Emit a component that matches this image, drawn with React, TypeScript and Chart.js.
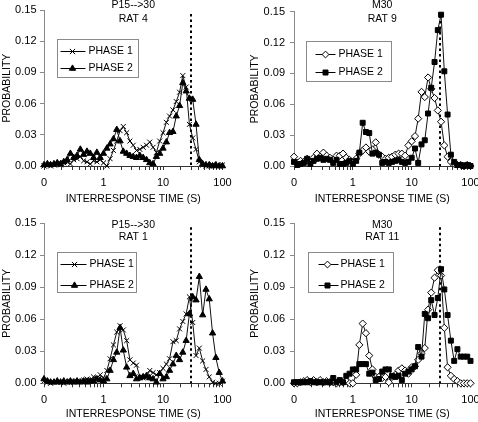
import React, { useEffect, useRef } from 'react';
import { Chart, registerables } from 'chart.js';

Chart.register(...registerables);

const FONT = '"Liberation Sans", Arial, Helvetica, sans-serif';

// Log-spaced interresponse-time bins (seconds)
const BINS = [
  0.1, 0.114, 0.129, 0.147, 0.167, 0.19, 0.215, 0.245, 0.278, 0.316, 0.359, 0.408, 0.464, 0.528, 0.599, 0.681, 0.774, 0.88,
  1, 1.14, 1.29, 1.47, 1.67, 1.9, 2.15, 2.45, 2.78, 3.16, 3.59, 4.08, 4.64, 5.28, 5.99, 6.81, 7.74, 8.8,
  10, 11.4, 12.9, 14.7, 16.7, 19, 21.5, 24.5, 27.8, 31.6, 35.9, 40.8, 46.4, 52.8, 59.9, 68.1, 77.4, 88,
  100,
];

const X_TICK_VALUES = [
  0.1, 0.2, 0.3, 0.4, 0.5, 0.6, 0.7, 0.8, 0.9,
  1, 2, 3, 4, 5, 6, 7, 8, 9,
  10, 20, 30, 40, 50, 60, 70, 80, 90,
  100,
];
const X_LABEL_VALUES = [0.1, 1, 10, 100];
const X_LABEL_TEXT = ['0', '1', '10', '100'];
const Y_TICK_VALUES = [0, 0.03, 0.06, 0.09, 0.12, 0.15];
const CRITERION_S = 30;
const SERIES_NAMES = ['PHASE 1', 'PHASE 2'];
const X_TITLE = 'INTERRESPONSE TIME (S)';
const Y_TITLE = 'PROBABILITY';

const P15_RAT4_PH1 = [
  0.000, 0.001, 0.000, 0.001, 0.002, 0.001, 0.003, 0.004, 0.002, 0.006,
  0.007, 0.009, 0.005, 0.004, 0.002, 0.005, 0.004, 0.006, 0.003, 0.000,
  0.007, 0.015, 0.024, 0.034, 0.038, 0.032, 0.024, 0.020, 0.015, 0.016,
  0.018, 0.020, 0.023, 0.018, 0.013, 0.024, 0.032, 0.042, 0.048, 0.054,
  0.062, 0.071, 0.087, 0.076, 0.040, 0.027, 0.016, 0.004, 0.001, 0.000,
  0.000, 0.001, 0.000, 0.000, 0.001,
];
const P15_RAT4_PH2 = [
  0.001, 0.002, 0.001, 0.002, 0.003, 0.002, 0.004, 0.006, 0.012, 0.008,
  0.010, 0.016, 0.011, 0.014, 0.012, 0.008, 0.013, 0.008, 0.012, 0.017,
  0.021, 0.026, 0.035, 0.024, 0.014, 0.012, 0.010, 0.009, 0.008, 0.010,
  0.008, 0.006, 0.003, 0.002, 0.009, 0.012, 0.017, 0.023, 0.032, 0.033,
  0.048, 0.058, 0.080, 0.072, 0.065, 0.064, 0.040, 0.006, 0.002, 0.001,
  0.001, 0.000, 0.001, 0.000, 0.000,
];
const M30_RAT9_PH1 = [
  0.009, 0.003, 0.005, 0.004, 0.007, 0.003, 0.008, 0.012, 0.009, 0.013,
  0.010, 0.008, 0.006, 0.010, 0.010, 0.012, 0.008, 0.006, 0.003, 0.007,
  0.012, 0.015, 0.018, 0.014, 0.016, 0.023, 0.011, 0.009, 0.007, 0.008,
  0.009, 0.011, 0.012, 0.012, 0.010, 0.020, 0.024, 0.029, 0.046, 0.072,
  0.067, 0.086, 0.075, 0.066, 0.054, 0.043, 0.020, 0.009, 0.004, 0.002,
  0.001, 0.001, 0.000, 0.001, 0.000,
];
const M30_RAT9_PH2 = [
  0.004, 0.001, 0.002, 0.003, 0.007, 0.002, 0.005, 0.007, 0.008, 0.006,
  0.007, 0.006, 0.003, 0.006, 0.002, 0.002, 0.003, 0.005, 0.002, 0.005,
  0.013, 0.042, 0.033, 0.032, 0.012, 0.013, 0.011, 0.003, 0.004, 0.003,
  0.004, 0.005, 0.006, 0.004, 0.003, 0.004, 0.008, 0.017, 0.003, 0.021,
  0.025, 0.051, 0.076, 0.101, 0.132, 0.147, 0.092, 0.050, 0.011, 0.004,
  0.001, 0.001, 0.000, 0.001, 0.000,
];
const P15_RAT1_PH1 = [
  0.002, 0.001, 0.000, 0.001, 0.001, 0.001, 0.000, 0.001, 0.002, 0.001,
  0.002, 0.002, 0.003, 0.004, 0.003, 0.006, 0.005, 0.008, 0.005, 0.012,
  0.023, 0.036, 0.048, 0.054, 0.050, 0.040, 0.022, 0.019, 0.017, 0.006,
  0.005, 0.006, 0.012, 0.010, 0.008, 0.010, 0.014, 0.018, 0.023, 0.039,
  0.040, 0.051, 0.058, 0.065, 0.081, 0.057, 0.026, 0.033, 0.021, 0.013,
  0.006, 0.001, 0.000, 0.000, 0.002,
];
const P15_RAT1_PH2 = [
  0.004, 0.002, 0.001, 0.001, 0.002, 0.001, 0.002, 0.001, 0.002, 0.001,
  0.002, 0.001, 0.002, 0.001, 0.002, 0.002, 0.004, 0.003, 0.002, 0.004,
  0.012, 0.022, 0.029, 0.052, 0.031, 0.015, 0.007, 0.009, 0.004, 0.005,
  0.006, 0.007, 0.005, 0.004, 0.001, 0.009, 0.004, 0.006, 0.012, 0.018,
  0.026, 0.022, 0.029, 0.040, 0.065, 0.081, 0.078, 0.100, 0.064, 0.088,
  0.079, 0.047, 0.024, 0.010, 0.002,
];
const M30_RAT11_PH1 = [
  0.000, 0.000, 0.001, 0.002, 0.003, 0.001, 0.003, 0.001, 0.003, 0.001,
  0.002, 0.001, 0.001, 0.000, 0.001, 0.001, 0.002, 0.000, 0.000, 0.008,
  0.036, 0.056, 0.047, 0.026, 0.013, 0.006, 0.006, 0.005, 0.006, 0.001,
  0.006, 0.008, 0.012, 0.014, 0.012, 0.009, 0.015, 0.016, 0.022, 0.028,
  0.033, 0.069, 0.085, 0.099, 0.106, 0.101, 0.052, 0.015, 0.007, 0.004,
  0.002, 0.000, 0.000, 0.000, 0.000,
];
const M30_RAT11_PH2 = [
  0.001, 0.001, 0.001, 0.001, 0.001, 0.002, 0.001, 0.001, 0.001, 0.001,
  0.001, 0.001, 0.005, 0.001, 0.003, 0.001, 0.007, 0.009, 0.013, 0.013,
  0.018, 0.018, 0.018, 0.009, 0.010, 0.003, 0.004, 0.011, 0.013, 0.013,
  0.007, 0.006, 0.007, 0.003, 0.009, 0.011, 0.013, 0.016, 0.034, 0.025,
  0.065, 0.061, 0.078, 0.064, 0.080, 0.107, 0.088, 0.064, 0.040, 0.021,
  0.032, 0.025, 0.025, 0.025, 0.021,
];

type Marker = 'cross' | 'triangle' | 'diamond' | 'square';

interface LegendSpec {
  dx: number; dy: number; w: number; h: number;
  rows: number[]; lineFrom: number; lineTo: number; marker: number; text: number;
}
interface PanelSpec {
  left: number; top: number; width: number; height: number;
  area: { left: number; right: number; top: number; bottom: number };
  titles: string[]; titleY: number[];
  series: number[][]; markers: Marker[];
  legend: LegendSpec;
  yTitlePad: number; xTitlePad: number; yTickPad: number;
}

const PANELS: PanelSpec[] = [
  {
    left: 0, top: 0, width: 239, height: 210,
    area: { left: 44, right: 222.5, top: 6, bottom: 166 },
    titles: ['P15-->30', 'RAT 4'], titleY: [5, 19],
    series: [P15_RAT4_PH1, P15_RAT4_PH2], markers: ['cross', 'triangle'],
    legend: { dx: 13, dy: 29, w: 81, h: 38, rows: [11, 28], lineFrom: 3, lineTo: 28, marker: 15, text: 31 },
    yTitlePad: 1, xTitlePad: 4.5, yTickPad: 3.5,
  },
  {
    left: 239, top: 0, width: 250, height: 210,
    area: { left: 55, right: 231.5, top: 6, bottom: 166 },
    titles: ['M30', 'RAT 9'], titleY: [5, 19],
    series: [M30_RAT9_PH1, M30_RAT9_PH2], markers: ['diamond', 'square'],
    legend: { dx: 12, dy: 29, w: 85, h: 40, rows: [12, 30], lineFrom: 9, lineTo: 29, marker: 19, text: 32 },
    yTitlePad: 9.5, xTitlePad: 4.5, yTickPad: 5,
  },
  {
    left: 0, top: 210, width: 239, height: 212,
    area: { left: 44, right: 222.5, top: 13.3, bottom: 173.3 },
    titles: ['P15-->30', 'RAT 1'], titleY: [15, 27],
    series: [P15_RAT1_PH1, P15_RAT1_PH2], markers: ['cross', 'triangle'],
    legend: { dx: 13, dy: 29, w: 79, h: 40, rows: [11, 32], lineFrom: 3, lineTo: 29, marker: 17, text: 32 },
    yTitlePad: 0.5, xTitlePad: 1.5, yTickPad: 3.5,
  },
  {
    left: 239, top: 210, width: 250, height: 212,
    area: { left: 55, right: 231.5, top: 13.3, bottom: 173.3 },
    titles: ['M30', 'RAT 11'], titleY: [15, 27],
    series: [M30_RAT11_PH1, M30_RAT11_PH2], markers: ['diamond', 'square'],
    legend: { dx: 14, dy: 29, w: 85, h: 40, rows: [11, 32], lineFrom: 10, lineTo: 30, marker: 19, text: 32 },
    yTitlePad: 9.5, xTitlePad: 1.5, yTickPad: 5,
  },
];

function markerOptions(m: Marker) {
  switch (m) {
    case 'cross':
      return { pointStyle: 'crossRot', pointRadius: 3.5, pointBorderColor: '#000', pointBackgroundColor: '#000', pointBorderWidth: 1 };
    case 'triangle':
      return { pointStyle: 'triangle', pointRadius: 3.6, pointBorderColor: '#000', pointBackgroundColor: '#000', pointBorderWidth: 1 };
    case 'diamond':
      return { pointStyle: 'rectRot', pointRadius: 3.6, pointBorderColor: '#000', pointBackgroundColor: '#fff', pointBorderWidth: 1 };
    default:
      return { pointStyle: 'rect', pointRadius: 3.5, pointBorderColor: '#000', pointBackgroundColor: '#000', pointBorderWidth: 1 };
  }
}

function drawMarker(ctx: CanvasRenderingContext2D, m: Marker, x: number, y: number) {
  ctx.save();
  ctx.lineWidth = 1;
  ctx.strokeStyle = '#000';
  ctx.fillStyle = '#000';
  ctx.beginPath();
  if (m === 'cross') {
    const r = 2.6;
    ctx.moveTo(x - r, y - r); ctx.lineTo(x + r, y + r);
    ctx.moveTo(x - r, y + r); ctx.lineTo(x + r, y - r);
    ctx.stroke();
  } else if (m === 'triangle') {
    const r = 3.6;
    ctx.moveTo(x, y - r);
    ctx.lineTo(x + r * 0.866, y + r * 0.5);
    ctx.lineTo(x - r * 0.866, y + r * 0.5);
    ctx.closePath();
    ctx.fill(); ctx.stroke();
  } else if (m === 'diamond') {
    const r = 3.4;
    ctx.moveTo(x, y - r); ctx.lineTo(x + r, y); ctx.lineTo(x, y + r); ctx.lineTo(x - r, y);
    ctx.closePath();
    ctx.fillStyle = '#fff';
    ctx.fill(); ctx.stroke();
  } else {
    const s = 2.5;
    ctx.rect(x - s, y - s, 2 * s, 2 * s);
    ctx.fill(); ctx.stroke();
  }
  ctx.restore();
}

function PanelChart({ spec }: { spec: PanelSpec }) {
  const ref = useRef<HTMLCanvasElement>(null);

  useEffect(() => {
    const canvas = ref.current;
    if (!canvas) return;
    const a = spec.area;

    const decor = {
      id: 'decor',
      beforeDatasetsDraw(chart: any) {
        const ctx = chart.ctx as CanvasRenderingContext2D;
        const ca = chart.chartArea;
        const x = Math.round(chart.scales.x.getPixelForValue(CRITERION_S));
        ctx.save();
        ctx.strokeStyle = '#000';
        ctx.lineWidth = 2;
        ctx.setLineDash([2.5, 3]);
        ctx.beginPath();
        ctx.moveTo(x, ca.top + 4);
        ctx.lineTo(x, ca.bottom);
        ctx.stroke();
        ctx.restore();
      },
      afterDraw(chart: any) {
        const ctx = chart.ctx as CanvasRenderingContext2D;
        const ca = chart.chartArea;
        ctx.save();
        ctx.fillStyle = '#000';
        ctx.font = `10.5px ${FONT}`;
        ctx.textAlign = 'center';
        ctx.textBaseline = 'middle';
        const cx = (ca.left + ca.right) / 2;
        spec.titles.forEach((t, k) => ctx.fillText(t, cx, spec.titleY[k]));

        const L = spec.legend;
        const bx = Math.round(ca.left + L.dx) + 0.5;
        const by = Math.round(ca.top + L.dy) + 0.5;
        ctx.fillStyle = '#fff';
        ctx.fillRect(bx, by, L.w, L.h);
        ctx.strokeStyle = '#8a8a8a';
        ctx.lineWidth = 1;
        ctx.strokeRect(bx, by, L.w, L.h);
        SERIES_NAMES.forEach((name, k) => {
          const y = Math.round(by + L.rows[k]) + 0.5;
          ctx.strokeStyle = '#000';
          ctx.beginPath();
          ctx.moveTo(bx + L.lineFrom, y);
          ctx.lineTo(bx + L.lineTo, y);
          ctx.stroke();
          drawMarker(ctx, spec.markers[k], bx + L.marker, y);
          ctx.fillStyle = '#000';
          ctx.textAlign = 'left';
          ctx.textBaseline = 'middle';
          ctx.font = `10.5px ${FONT}`;
          ctx.fillText(name, bx + L.text, y);
        });
        ctx.restore();
      },
    };

    const datasets = spec.series.map((vals, k) => ({
      label: SERIES_NAMES[k],
      data: BINS.map((x, i) => ({ x, y: vals[i] })),
      borderColor: '#111',
      borderWidth: 1,
      tension: 0,
      clip: false as any,
      order: k === 0 ? 1 : 0,
      ...markerOptions(spec.markers[k]),
    }));

    const chart = new Chart(canvas, {
      type: 'line',
      data: { datasets: datasets as any },
      options: {
        responsive: false,
        animation: false,
        devicePixelRatio: 1,
        layout: {
          padding: { left: 0, top: a.top, right: spec.width - a.right, bottom: 0 },
        },
        plugins: {
          legend: { display: false },
          tooltip: { enabled: false },
          title: { display: false },
        },
        scales: {
          x: {
            type: 'logarithmic',
            min: 0.1,
            max: 100,
            offset: false,
            afterBuildTicks: (scale: any) => {
              scale.ticks = X_TICK_VALUES.map((v) => ({ value: v }));
            },
            afterFit: (scale: any) => {
              scale.height = spec.height - a.bottom;
            },
            ticks: {
              autoSkip: false,
              maxRotation: 0,
              minRotation: 0,
              padding: 6.5,
              color: '#000',
              font: { family: FONT, size: 11 },
              callback: (value: any) => {
                const idx = X_LABEL_VALUES.findIndex((v) => Math.abs(v - Number(value)) < 1e-9);
                return idx >= 0 ? X_LABEL_TEXT[idx] : '';
              },
            },
            grid: { display: true, drawOnChartArea: false, drawTicks: true, tickLength: 4, color: '#333', lineWidth: 1 },
            border: { display: true, color: '#333', width: 1 },
            title: {
              display: true,
              text: X_TITLE,
              color: '#000',
              font: { family: FONT, size: 10.5 },
              padding: { top: 0, bottom: spec.xTitlePad },
            },
          },
          y: {
            type: 'linear',
            min: 0,
            max: 0.15,
            afterBuildTicks: (scale: any) => {
              scale.ticks = Y_TICK_VALUES.map((v) => ({ value: v }));
            },
            afterFit: (scale: any) => {
              scale.width = a.left;
            },
            ticks: {
              padding: spec.yTickPad,
              color: '#000',
              font: { family: FONT, size: 11 },
              callback: (value: any) => Number(value).toFixed(2),
            },
            grid: { display: true, drawOnChartArea: false, drawTicks: true, tickLength: 4, color: '#8a8a8a', lineWidth: 1 },
            border: { display: true, color: '#8a8a8a', width: 1 },
            title: {
              display: true,
              text: Y_TITLE,
              color: '#000',
              font: { family: FONT, size: 10.5 },
              padding: { top: spec.yTitlePad, bottom: 0 },
            },
          },
        },
      } as any,
      plugins: [decor],
    });

    return () => chart.destroy();
  }, [spec]);

  return (
    <canvas
      ref={ref}
      width={spec.width}
      height={spec.height}
      style={{ position: 'absolute', left: spec.left, top: spec.top, width: spec.width, height: spec.height }}
    />
  );
}

export default function App() {
  return (
    <div
      style={{
        position: 'absolute',
        left: 0,
        top: 0,
        width: 478,
        height: 422,
        overflow: 'hidden',
        background: '#fff',
      }}
    >
      {PANELS.map((p, i) => (
        <PanelChart key={i} spec={p} />
      ))}
    </div>
  );
}
